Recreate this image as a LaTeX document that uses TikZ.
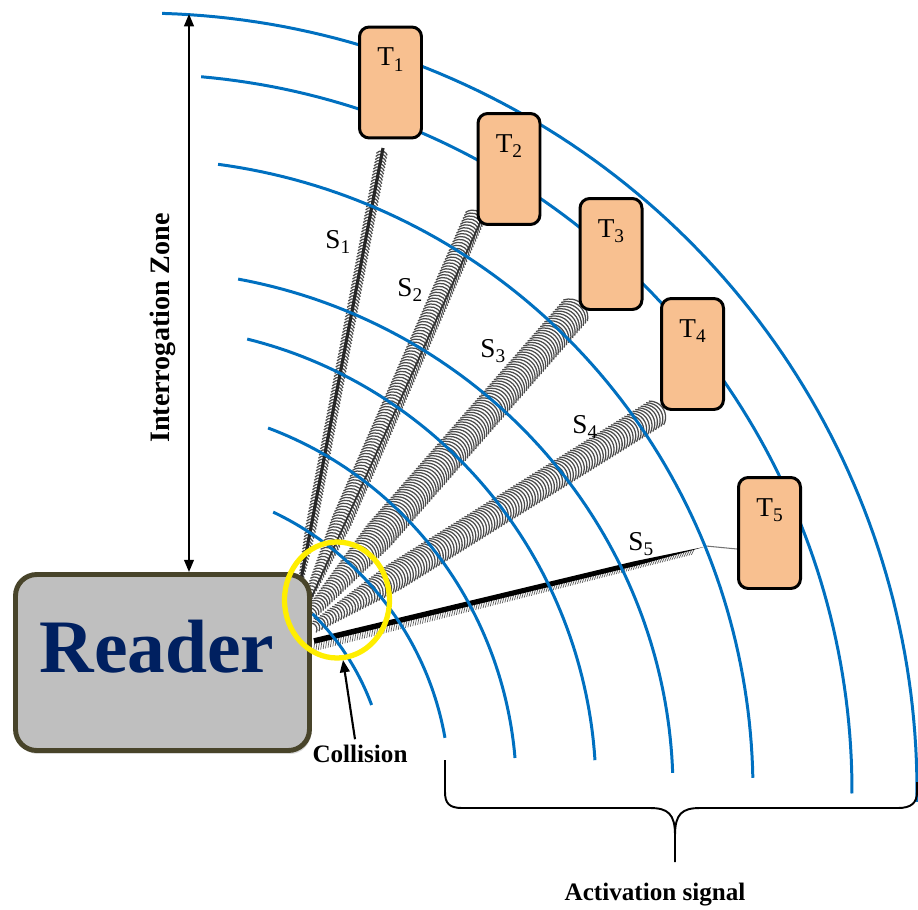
\documentclass[tikz,border=0pt]{standalone}
\usepackage{fontspec}
\setmainfont{Liberation Serif}
\usetikzlibrary{arrows.meta,shapes.geometric,shadows}

\definecolor{arcblue}{RGB}{0,112,192}
\definecolor{tagfill}{RGB}{248,192,144}
\definecolor{readerfill}{RGB}{191,191,191}
\definecolor{readerline}{RGB}{72,68,42}
\definecolor{readertext}{RGB}{0,32,96}
\definecolor{ringyellow}{RGB}{255,238,0}

% subscript digit set slightly below the baseline
\newcommand\lowsub[1]{\raisebox{-0.45ex}{\fontsize{11}{11}\selectfont #1}}

% a band of small crescents running from #1 along angle #2 for length #3
% #4 half width, #5 taper length, #6 stroke style
\newcommand\signalband[6]{%
  \begin{scope}[shift={(#1)}, rotate=#2, x=0.02cm, y=0.02cm]
    \foreach \pos in {0,3.2,...,#3}{
      \pgfmathsetmacro\hw{#4*min(1,0.4+0.6*\pos/#5)}
      \pgfmathsetmacro\rr{1.15*\hw}
      \draw[#6] ({\pos-0.5825*\hw},{-\hw}) arc[start angle=-60.4, end angle=60.4, radius=\rr*0.02cm];
    }
  \end{scope}}

\tikzset{
  wavearc/.style={arcblue, line width=1.7pt},
  tagbox/.style={draw=black, line width=1.7pt, fill=tagfill, rounded corners=5.5pt,
    minimum width=1.24cm, minimum height=2.22cm, inner sep=0pt},
  taglabel/.style={font=\fontsize{15.5}{18}\selectfont, anchor=base, inner sep=0pt},
  siglabel/.style={font=\fontsize{15.5}{18}\selectfont, anchor=base west, inner sep=0pt},
  readerbox/.style={draw=readerline, line width=2.8pt, fill=readerfill, rounded corners=12pt,
    minimum width=5.88cm, minimum height=3.52cm, inner sep=0pt,
    drop shadow={shadow xshift=0.03cm, shadow yshift=-0.07cm, opacity=0.3}},
  readerlabel/.style={font=\bfseries\fontsize{43}{48}\selectfont, text=readertext, anchor=base, inner sep=0pt},
  boldlabel/.style={font=\bfseries\fontsize{14.3}{17}\selectfont, inner sep=0pt},
  crescent/.style={black!70, line width=0.72pt},
  pointer/.style={line width=1.2pt, -{Triangle[length=7pt,width=5.5pt]}},
  zonearrow/.style={line width=1.2pt, {Triangle[length=7pt,width=5.5pt]}-{Triangle[length=7pt,width=5.5pt]}},
  bracepath/.style={line width=1.1pt, line join=round},
  ring/.style={draw=ringyellow, line width=3pt, ellipse, minimum width=2.1cm, minimum height=2.32cm, inner sep=0pt}
}

\begin{document}
\begin{tikzpicture}[x=0.02cm, y=-0.02cm]
\useasboundingbox (0,0) rectangle (918,909);

% signal band end points
\coordinate (s1a) at (300,585);  \coordinate (s1b) at (383,148);
\coordinate (s2a) at (308,598);  \coordinate (s2b) at (478,210);
\coordinate (s3a) at (312,612);  \coordinate (s3b) at (582,303);
\coordinate (s4a) at (316,626);  \coordinate (s4b) at (664,408);
\coordinate (s5a) at (314,641);  \coordinate (s5b) at (706,546);

% crescent bands
\signalband{s1a}{79.25}{444}{5.5}{60}{crescent}
\draw[line width=1.8pt, black!85] (s1a) -- (s1b);
\signalband{s2a}{66.34}{423}{10.5}{90}{crescent}
\begin{scope}[shift={(s2a)}, rotate=66.34, x=0.02cm, y=0.02cm]
  \draw[line width=1pt, black!80] (0,-3) -- (423,-7);
\end{scope}
\signalband{s3a}{48.86}{410}{16}{110}{crescent}
\signalband{s4a}{32.06}{410}{14}{100}{crescent}
% S5: dark stroke ending in a point, with a fringe beneath
\begin{scope}[shift={(s5a)}, rotate=13.56, x=0.02cm, y=0.02cm]
  \foreach \pos in {0,2.5,...,392}{
    \draw[black!65, line width=0.4pt] ({\pos+1},0) -- ({\pos-3},{-3-7*(1-\pos/520)});
  }
  \fill[black] (0,2.8) -- (330,2.4) -- (401,0) -- (330,-2.4) -- (0,-2.8) -- cycle;
\end{scope}
\coordinate (s5h) at (737,549);
\draw[black!55, line width=0.6pt] (s5b) -- (s5h);

% activation wavefronts
\draw[wavearc] plot[domain=88.3:-0.8, samples=90, variable=\t] ({139+778*cos(\t)}, {791-778*sin(\t)});
\draw[wavearc] plot[domain=85.0:-0.2, samples=90, variable=\t] ({139+713*cos(\t)}, {791-717*sin(\t)});
\draw[wavearc] plot[domain=82.6:1.2, samples=80, variable=\t] ({139+614*cos(\t)}, {791-632*sin(\t)});
\draw[wavearc] plot[domain=79.3:2.0, samples=80, variable=\t] ({139+534*cos(\t)}, {791-521*sin(\t)});
\draw[wavearc] plot[domain=76.3:3.8, samples=70, variable=\t] ({139+457*cos(\t)}, {791-465.2*sin(\t)});
\draw[wavearc] plot[domain=70.0:4.9, samples=60, variable=\t] ({139+377.4*cos(\t)}, {791-386.3*sin(\t)});
\draw[wavearc] plot[domain=64.4:9.9, samples=50, variable=\t] ({139+310.6*cos(\t)}, {791-309.3*sin(\t)});
\draw[wavearc] plot[domain=45.6:20.3, samples=30, variable=\t] ({139+248*cos(\t)}, {791-248*sin(\t)});

% reader
\node[readerbox] (reader) at (162.5,662.5) {};
\node[readerlabel] (readername) at (157,672) {Reader};

% tags
\node[tagbox] (t1) at (390.5,82.5) {};
\node[tagbox] (t2) at (509,169) {};
\node[tagbox] (t3) at (611,254) {};
\node[tagbox] (t4) at (692.5,354) {};
\node[tagbox] (t5) at (769.5,533) {};
\foreach \k in {1,...,5}{
  \node[taglabel] (t\k l) at ([yshift=-0.8cm]t\k.north) {T\lowsub{\k}};
}

% signal labels
\node[siglabel] (l1) at (325,248) {S\lowsub{1}};
\node[siglabel] (l2) at (397,296) {S\lowsub{2}};
\node[siglabel] (l3) at (480,357) {S\lowsub{3}};
\node[siglabel] (l4) at (572,433) {S\lowsub{4}};
\node[siglabel] (l5) at (628,550) {S\lowsub{5}};

% collision ring and pointer
\node[ring] (ring) at (337,600) {};
\node[boldlabel, anchor=base] (collision) at (360,762) {Collision};
\coordinate (ctip) at (343,660);
\draw[pointer] ([xshift=-0.1cm, yshift=0.1cm]collision.north) -- (ctip);

% interrogation zone
\coordinate (ztop) at (189,14);
\draw[zonearrow] (ztop) -- (ztop |- reader.north);
\node[boldlabel, font=\bfseries\fontsize{16}{19}\selectfont, rotate=90] (zone) at (163,328) {Interrogation Zone};

% activation bracket
\coordinate (bl) at (445,760);
\coordinate (br) at (917,782);
\coordinate (bm) at (675,862);
\draw[bracepath] (bl) -- (445,792) .. controls (445,803) and (449,808) .. (462,808) -- (650,808)
  .. controls (668,808) and (675,814) .. (675,835) -- (bm);
\draw[bracepath] (675,835) .. controls (675,814) and (682,808) .. (700,808) -- (898,808)
  .. controls (911,808) and (917,803) .. (917,792) -- (br);
\node[boldlabel, anchor=base] (activation) at (655,900) {Activation signal};
\end{tikzpicture}
\end{document}
